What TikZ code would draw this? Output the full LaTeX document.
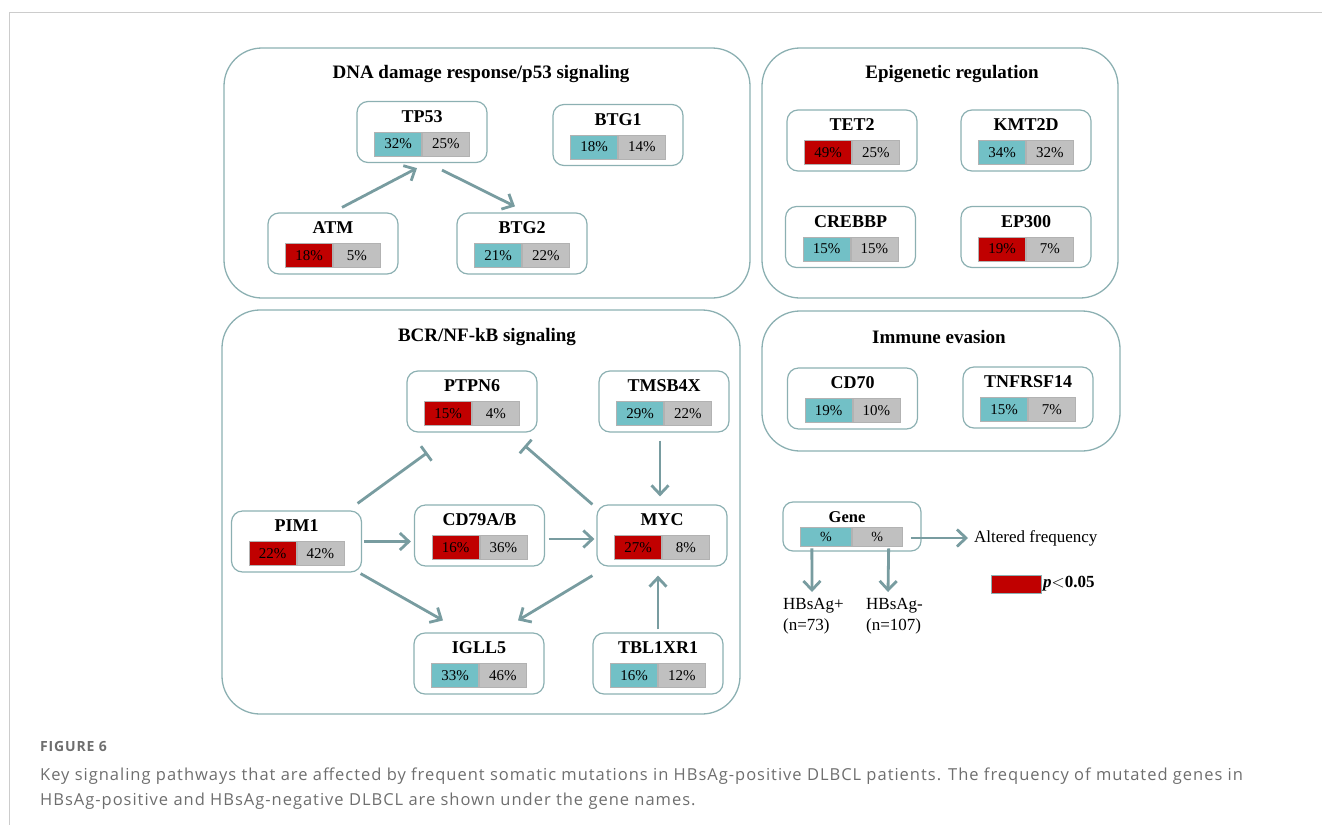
\documentclass[tikz,border=0pt]{standalone}
\usepackage{fontspec}
\setmainfont{Liberation Serif}
\newfontfamily\capfont[LetterSpace=6]{Open Sans}
\usetikzlibrary{arrows.meta, calc, positioning}
\definecolor{hbpos}{RGB}{114,192,198}
\definecolor{hbneg}{RGB}{192,192,192}
\definecolor{sig}{RGB}{192,0,0}
\definecolor{frame}{RGB}{140,176,178}
\definecolor{link}{RGB}{120,156,160}
\definecolor{capgray}{RGB}{110,110,110}
\tikzset{
    panel/.style={draw=frame, line width=1.3pt, rounded corners=38pt, inner sep=0pt},
    paneltitle/.style={font=\fontsize{19}{22}\selectfont\bfseries, inner sep=0pt},
    genebox/.style={draw=frame, line width=1.2pt, rounded corners=11pt, minimum width=130pt, minimum height=61pt, inner sep=0pt},
    genename/.style={font=\fontsize{18}{20}\selectfont\bfseries, inner sep=0pt},
    pct/.style={draw=black!30, line width=0.8pt, minimum width=47pt, minimum height=24pt, inner sep=0pt, font=\fontsize{15}{17}\selectfont},
    act/.style={draw=link, line width=2.8pt, -{Straight Barb[length=9pt,width=17pt]}},
    inh/.style={draw=link, line width=2.8pt, -{Bar[width=18pt]}},
    legtext/.style={font=\fontsize{17}{21}\selectfont, inner sep=0pt, align=left}
}
\begin{document}
\begin{tikzpicture}[x=1pt, y=-1pt]
    \useasboundingbox (0,0) rectangle (1322,825);
    \draw[black!20, line width=1pt] (1322,12) -- (9,12) -- (9,825);
    % pathway panels
    \node[panel, minimum width=526pt, minimum height=250pt] (dna) at (487,173) {};
    \node[panel, minimum width=356pt, minimum height=250pt] (epi) at (940,173) {};
    \node[panel, minimum width=358pt, minimum height=140pt] (imm) at (941,381) {};
    \node[panel, minimum width=518pt, minimum height=404pt] (bcr) at (481,512) {};
    \node[paneltitle] (dna-t) at (481,74) {DNA damage response/p53 signaling};
    \node[paneltitle] (epi-t) at (952,74) {Epigenetic regulation};
    \node[paneltitle] (imm-t) at (939,337) {Immune evasion};
    \node[paneltitle] (bcr-t) at (487,337) {BCR/NF-kB signaling};
    % genes: name / label / x / y / HBsAg+ / HBsAg- / colour
    \foreach \g/\nm/\x/\y/\p/\q/\c in {
        tp53/TP53/422/132/32/25/hbpos, btg1/BTG1/618/135/18/14/hbpos,
        atm/ATM/333/243.5/18/5/sig, btg2/BTG2/522/243.5/21/22/hbpos,
        tet2/TET2/852/140.5/49/25/sig, kmt2d/KMT2D/1026/140.5/34/32/hbpos,
        crebbp/CREBBP/850.5/237/15/15/hbpos, ep300/EP300/1026/237/19/7/sig,
        cd70/CD70/852.5/398.5/19/10/hbpos, tnfrsf14/TNFRSF14/1028/397.5/15/7/hbpos,
        ptpn6/PTPN6/472/401.5/15/4/sig, tmsb4x/TMSB4X/664/401.5/29/22/hbpos,
        pim1/PIM1/296.5/541.5/22/42/sig, cd79/{CD79A/B}/479.5/535.5/16/36/sig,
        myc/MYC/662/535.5/27/8/sig, igll5/IGLL5/479/663.5/33/46/hbpos,
        tbl1xr1/TBL1XR1/658/663.5/16/12/hbpos}{
    \node[genebox] (\g) at (\x,\y) {};
    \node[genename] (\g-name) at (\x,\y-15.5) {\nm};
    \node[pct, fill=\c, anchor=east] (\g-p) at (\x,\y+12) {\p\%};
    \node[pct, fill=hbneg, anchor=west] (\g-n) at (\x,\y+12) {\q\%};
    }
    % DNA damage links
    \draw[act] ($(atm.north)+(9,-5)$) -- ($(tp53.south)+(-5,5)$);
    \draw[act] ($(tp53.south)+(20,7)$) -- ($(btg2.north)+(-7,-6)$);
    % BCR links
    \draw[inh] ($(pim1.north east)+(-4.5,-7)$) -- ($(ptpn6.south west)+(21,20)$);
    \draw[inh] ($(myc.north west)+(-4,0)$) -- ($(ptpn6.south east)+(-13,13)$);
    \draw[act] ($(tmsb4x.south)+(-4,8)$) -- ($(myc.north)+(-2,-8)$);
    \draw[act] ($(pim1.east)+(2,0)$) -- ($(cd79.west)+(-3,6)$);
    \draw[act] ($(cd79.east)+(3.5,3.5)$) -- ($(myc.west)+(-2,3.5)$);
    \draw[act] ($(pim1.south east)+(-1.5,1)$) -- ($(igll5.north)+(-36,-12)$);
    \draw[act] ($(myc.south west)+(-4,9)$) -- ($(igll5.north)+(39,-12)$);
    \draw[act] ($(tbl1xr1.north)+(0,-3)$) -- ($(myc.south)+(-4,9)$);
    % legend
    \node[genebox, minimum width=138pt, minimum height=49pt, rounded corners=10pt] (leg) at (852,526.5) {};
    \node[genename, font=\fontsize{16.5}{18}\selectfont\bfseries] (leg-name) at (847,517) {Gene};
    \node[pct, fill=hbpos, anchor=east, minimum width=50.5pt, minimum height=19pt, font=\fontsize{14}{16}\selectfont] (leg-p) at (851.5,536.5) {\%};
    \node[pct, fill=hbneg, anchor=west, minimum width=50.5pt, minimum height=19pt, font=\fontsize{14}{16}\selectfont] (leg-n) at (851.5,536.5) {\%};
    \node[legtext, anchor=west] (alt) at (974,538) {Altered frequency};
    \node[legtext, anchor=north west] (hbp) at (783,598) {HBsAg+\\(n=73)};
    \node[legtext, anchor=north west] (hbn) at (866,598) {HBsAg-\\(n=107)};
    \draw[act] ($(leg-n.east)+(8,1.5)$) -- ($(alt.west)+(-6,0)$);
    \draw[act] ($(leg-p.south)+(-14,2)$) -- ($(hbp.north west)+(29,-6)$);
    \draw[act] ($(leg-n.south)+(11.5,2)$) -- ($(hbn.north west)+(22,-6)$);
    \node[draw=frame, fill=sig, line width=0.8pt, minimum width=50pt, minimum height=18pt, inner sep=0pt] (key) at (1016,584) {};
    \node[anchor=west, inner sep=0pt, font=\fontsize{17}{20}\selectfont\bfseries] (key-t) at (1043,584) {\textit{p}$<$0.05};
    % caption
    \node[anchor=base west, inner sep=0pt, text=capgray, font=\capfont\fontsize{14}{16}\selectfont\bfseries] (fig) at (40,751) {FIGURE 6};
    \node[anchor=base west, inner sep=0pt, text=capgray, font=\capfont\fontsize{16.5}{20}\selectfont] (cap1) at (40,780) {Key signaling pathways that are affected by frequent somatic mutations in HBsAg-positive DLBCL patients. The frequency of mutated genes in};
    \node[anchor=base west, inner sep=0pt, text=capgray, font=\capfont\fontsize{16.5}{20}\selectfont] (cap2) at (40,805) {HBsAg-positive and HBsAg-negative DLBCL are shown under the gene names.};
\end{tikzpicture}
\end{document}
